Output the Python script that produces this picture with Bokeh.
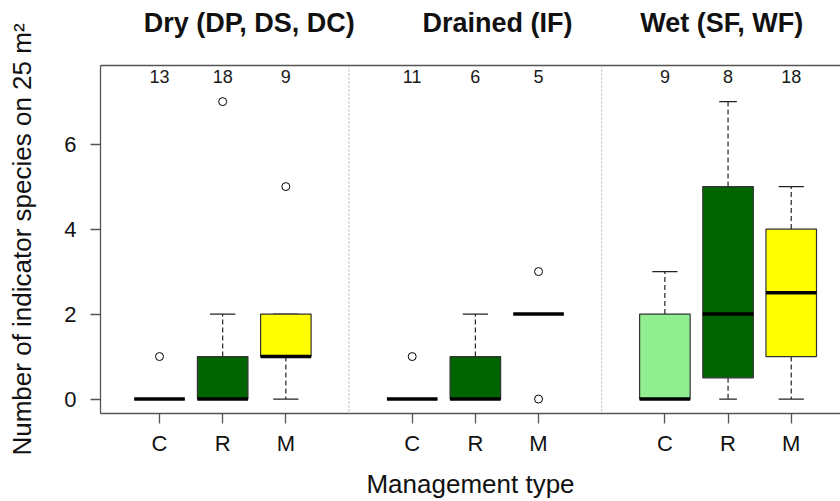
from bokeh.plotting import figure
from bokeh.models import ColumnDataSource, FixedTicker, LinearAxis, Span, Range1d
from bokeh.core.properties import value
from bokeh.embed import file_html
from bokeh.resources import INLINE

# ---- data ----
groups = ["Dry (DP, DS, DC)", "Drained (IF)", "Wet (SF, WF)"]
mgmt = ["C", "R", "M"]
# per box, order: Dry C,R,M | Drained C,R,M | Wet C,R,M
n_obs = [13, 18, 9, 11, 6, 5, 9, 8, 18]
q1 = [0, 0, 1, 0, 0, 2, 0, 0.5, 1]
median = [0, 0, 1, 0, 0, 2, 0, 2, 2.5]
q3 = [0, 1, 2, 0, 1, 2, 2, 5, 4]
w_low = [0, 0, 0, 0, 0, 2, 0, 0, 0]
w_high = [0, 2, 2, 0, 2, 2, 3, 7, 5]
# outliers: (box index, value)
out_box = [0, 1, 2, 3, 5, 5]
out_val = [1, 7, 5, 1, 3, 0]
x_title = "Management type"
y_title = "Number of indicator species on 25 m²"

mgmt_colors = {"C": "#90EE90", "R": "#006400", "M": "#FFFF00"}
FONT = "Liberation Sans"
LINE = "#555555"

# positions through a numeric scale: group i, management j -> 4*i + j + 1
pos = [4 * gi + mi + 1 for gi in range(len(groups)) for mi in range(len(mgmt))]
labels = [m for _ in groups for m in mgmt]
fills = [mgmt_colors[m] for m in labels]
half = 0.4
staple = [0.2, 0.2, 0.2, 0.2, 0.2, 0.2, 0.2, 0.14, 0.2]

src = ColumnDataSource(dict(
    x=pos, left=[x - half for x in pos], right=[x + half for x in pos],
    q1=q1, q3=q3, med=median, lo=w_low, hi=w_high, fill=fills,
    sl=[x - s for x, s in zip(pos, staple)], sr=[x + s for x, s in zip(pos, staple)],
    n=[str(v) for v in n_obs], ny=[7.6] * len(pos),
))

p = figure(width=840, height=501, output_backend="svg", toolbar_location=None,
           x_range=Range1d(0.066, 11.78), y_range=Range1d(-0.34, 7.85),
           min_border_left=100, min_border_right=0, min_border_top=65, min_border_bottom=88)
p.grid.visible = False
p.outline_line_color = None
p.background_fill_color = "white"
p.border_fill_color = "white"

# separators
for s in [4, 8]:
    p.add_layout(Span(location=s, dimension="height", line_color="#b0b0b0",
                      line_dash="2 2", line_width=1))

# whiskers (dashed) and staples
p.segment(x0="x", y0="q3", x1="x", y1="hi", source=src, line_color="#222222",
          line_dash="5 3", line_width=1.2)
p.segment(x0="x", y0="q1", x1="x", y1="lo", source=src, line_color="#222222",
          line_dash="5 3", line_width=1.2)
p.segment(x0="sl", y0="hi", x1="sr", y1="hi", source=src, line_color="#222222", line_width=1.3)
p.segment(x0="sl", y0="lo", x1="sr", y1="lo", source=src, line_color="#222222", line_width=1.3)

# boxes
p.quad(left="left", right="right", bottom="q1", top="q3", source=src,
       fill_color="fill", line_color="#333333", line_width=1.2)
# medians
p.segment(x0="left", y0="med", x1="right", y1="med", source=src,
          line_color="black", line_width=3.5)

# outliers
p.scatter(x=[pos[b] for b in out_box], y=out_val, size=8, marker="circle",
          fill_color="white", line_color="black", line_width=1)

# counts
p.text(x="x", y="ny", text="n", source=src, text_align="center", text_baseline="middle",
       text_font=value(FONT), text_font_size="18px", text_color="#1a1a1a")

# axes
xa = p.xaxis[0]
xa.ticker = FixedTicker(ticks=pos)
xa.major_label_overrides = {x: l for x, l in zip(pos, labels)}
xa.axis_label = x_title
ya = p.yaxis[0]
ya.ticker = FixedTicker(ticks=[0, 2, 4, 6])
ya.major_label_orientation = "horizontal"
ya.axis_label = y_title

for ax in (xa, ya):
    ax.axis_line_color = LINE
    ax.axis_line_width = 1.3
    ax.major_tick_line_color = LINE
    ax.major_tick_line_width = 1.3
    ax.major_tick_out = 10
    ax.major_tick_in = 0
    ax.minor_tick_line_color = None
    ax.major_label_text_font = FONT
    ax.major_label_text_font_size = "22px"
    ax.major_label_text_color = "#111111"
    ax.axis_label_text_font = FONT
    ax.axis_label_text_font_size = "26px"
    ax.axis_label_text_font_style = "normal"
    ax.axis_label_text_color = "#111111"

xa.major_label_standoff = 7
xa.axis_label_standoff = 10
ya.major_label_standoff = 14
ya.axis_label_standoff = 24

title_pos = [2.42, 6.35, 9.9]
top = LinearAxis(ticker=FixedTicker(ticks=title_pos),
                 major_label_overrides={t: g for t, g in zip(title_pos, groups)})
top.axis_line_color = LINE
top.axis_line_width = 1.3
top.major_tick_line_color = None
top.minor_tick_line_color = None
top.major_label_text_font = FONT
top.major_label_text_font_size = "27px"
top.major_label_text_font_style = "bold"
top.major_label_text_color = "#111111"
top.major_label_standoff = 22
p.add_layout(top, "above")

open("out.html", "w").write(file_html(p, INLINE))
